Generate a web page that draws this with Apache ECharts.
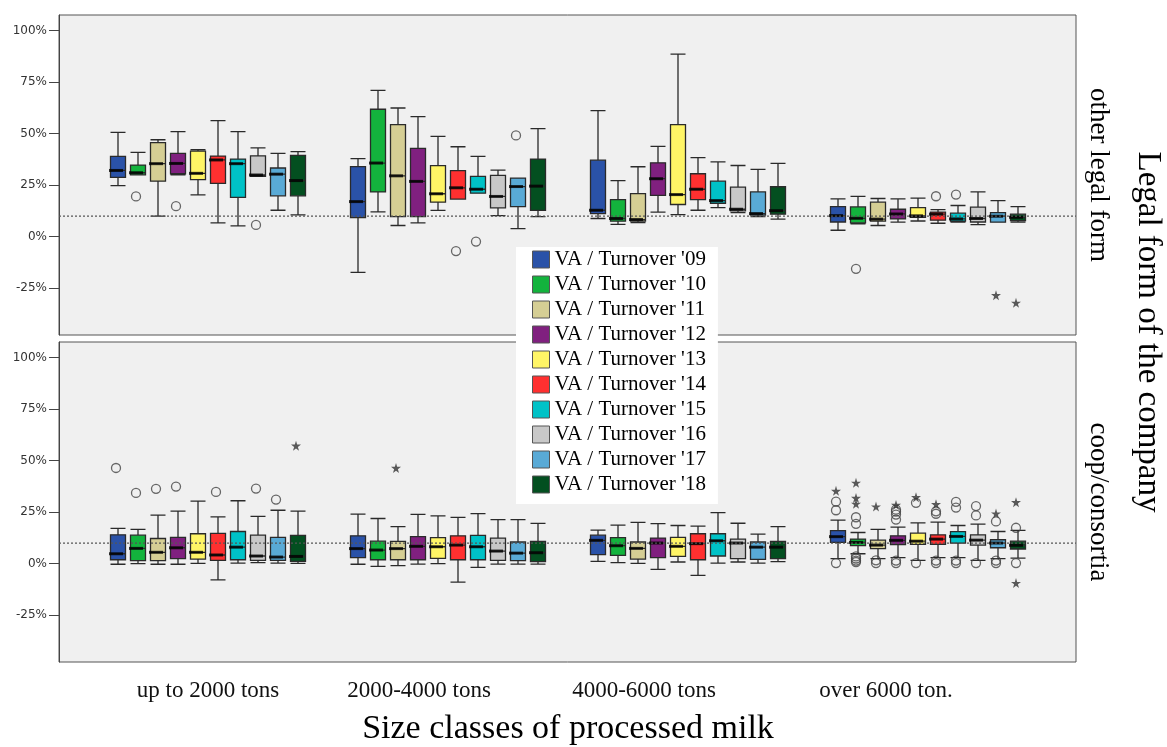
<!DOCTYPE html>
<html><head><meta charset="utf-8">
<script src="https://cdn.jsdelivr.net/npm/echarts@6/dist/echarts.min.js"></script>
<style>html,body{margin:0;padding:0;background:#fff}#c{width:1167px;height:747px}</style>
</head><body><div id="c"></div>
<script>
// ---------- data ----------
const groups = ['up to 2000 tons', '2000-4000 tons', '4000-6000 tons', 'over 6000 ton.'];
const years = ["VA / Turnover '09", "VA / Turnover '10", "VA / Turnover '11", "VA / Turnover '12", "VA / Turnover '13",
               "VA / Turnover '14", "VA / Turnover '15", "VA / Turnover '16", "VA / Turnover '17", "VA / Turnover '18"];
const colors = ['#2A52A8', '#13B33D', '#D5CE94', '#80207F', '#FFF566', '#FF3030', '#00C2C7', '#C8C8C8', '#59AAD6', '#034F20'];
const panelNames = ['other legal form', 'coop/consortia'];
const yTicks = [-0.25, 0, 0.25, 0.5, 0.75, 1];
const refValue = 0.10;

// box values per group: [min, Q1, median, Q3, max]
const top09 = [[.247,.287,.321,.389,.506],[-.173,.092,.170,.340,.378],[.088,.112,.128,.371,.611],[.031,.071,.102,.146,.183]];
const top10 = [[.300,.300,.310,.347,.409],[.120,.217,.357,.618,.709],[.060,.075,.088,.180,.272],[.062,.067,.089,.144,.195]];
const top11 = [[.100,.269,.354,.456,.470],[.054,.097,.295,.543,.624],[.068,.075,.083,.209,.339],[.054,.075,.085,.167,.185]];
const top12 = [[.300,.305,.355,.404,.509],[.067,.097,.268,.428,.582],[.119,.200,.281,.358,.438],[.070,.086,.110,.133,.183]];
const top13 = [[.203,.277,.307,.415,.422],[.127,.167,.208,.344,.486],[.107,.156,.204,.543,.885],[.076,.094,.101,.141,.187]];
const top14 = [[.067,.258,.372,.391,.563],[.182,.182,.237,.320,.436],[.128,.180,.230,.305,.383],[.065,.080,.109,.119,.131]];
const top15 = [[.052,.190,.354,.376,.509],[.211,.211,.230,.292,.389],[.141,.162,.175,.269,.363],[.070,.075,.086,.114,.151]];
const top16 = [[.292,.292,.299,.392,.431],[.102,.140,.195,.297,.323],[.117,.125,.133,.240,.345],[.058,.071,.088,.143,.217]];
const top17 = [[.128,.198,.303,.333,.404],[.039,.146,.243,.284,.284],[.097,.104,.112,.217,.326],[.070,.070,.099,.117,.175]];
const top18 = [[.106,.198,.272,.394,.412],[.097,.127,.245,.376,.524],[.085,.109,.126,.242,.355],[.070,.078,.094,.109,.146]];

const bot09 = [[-.003,.019,.048,.140,.171],[-.003,.029,.073,.135,.240],[.011,.044,.113,.138,.163],[.024,.103,.131,.160,.211]];
const bot10 = [[.000,.015,.074,.138,.166],[-.013,.019,.066,.109,.219],[.005,.040,.087,.126,.187],[.048,.087,.103,.119,.151]];
const bot11 = [[-.003,.015,.055,.122,.235],[-.010,.019,.073,.108,.180],[.001,.022,.074,.105,.200],[.024,.073,.090,.114,.166]];
const bot12 = [[-.003,.024,.077,.127,.255],[-.002,.019,.084,.131,.239],[-.028,.029,.100,.124,.194],[.029,.092,.113,.135,.177]];
const bot13 = [[.001,.022,.055,.145,.303],[.000,.026,.082,.126,.232],[.008,.035,.084,.127,.185],[.016,.093,.109,.148,.198]];
const bot14 = [[-.079,.016,.042,.147,.227],[-.090,.019,.090,.135,.224],[-.057,.019,.097,.145,.182],[.029,.093,.119,.140,.201]];
const bot15 = [[.003,.019,.080,.156,.305],[-.018,.019,.082,.137,.243],[.003,.037,.111,.145,.247],[.029,.100,.132,.155,.185]];
const bot16 = [[.005,.016,.037,.138,.229],[-.002,.016,.061,.124,.214],[.008,.024,.100,.119,.196],[.016,.090,.114,.140,.192]];
const bot17 = [[.003,.016,.032,.127,.259],[-.002,.015,.051,.105,.214],[.003,.021,.080,.105,.143],[.024,.077,.100,.116,.156]];
const bot18 = [[.001,.011,.035,.137,.255],[-.002,.010,.053,.108,.195],[.010,.024,.080,.108,.180],[.027,.071,.089,.109,.161]];

// outliers: [group, yearIndex, value]
const topCircles = [[0,1,.195],[0,3,.148],[0,7,.057],[1,5,-.070],[1,6,-.024],[1,8,.491],[3,1,-.156],[3,5,.196],[3,6,.204]];
const topStars = [[3,8,-.284],[3,9,-.321]];
const botCircles = [[0,0,.464],[0,1,.343],[0,2,.363],[0,3,.374],[0,5,.348],[0,7,.364],[0,8,.311],
  [3,0,.259],[3,0,.301],[3,0,.003],
  [3,1,.193],[3,1,.225],[3,1,.035],[3,1,.025],[3,1,.015],[3,1,.008],
  [3,2,.016],[3,2,.003],
  [3,3,.214],[3,3,.238],[3,3,.252],[3,3,.262],[3,3,.015],[3,3,.003],
  [3,4,.295],[3,4,.003],
  [3,5,.242],[3,5,.254],[3,5,.015],[3,5,.003],
  [3,6,.272],[3,6,.300],[3,6,.015],[3,6,.003],
  [3,7,.234],[3,7,.279],[3,7,.003],
  [3,8,.205],[3,8,.015],[3,8,.003],
  [3,9,.174],[3,9,.003]];
const botStars = [[0,9,.572],[1,2,.464],[3,0,.353],[3,1,.290],[3,1,.319],[3,1,.392],[3,2,.277],[3,3,.285],
  [3,4,.322],[3,5,.288],[3,8,.243],[3,9,.298],[3,9,-.094]];

const panels = [
  {series: [top09,top10,top11,top12,top13,top14,top15,top16,top17,top18], circles: topCircles, stars: topStars},
  {series: [bot09,bot10,bot11,bot12,bot13,bot14,bot15,bot16,bot17,bot18], circles: botCircles, stars: botStars}
];

// ---------- build ----------
const SLOTS = 12;
const slotNames = [];
groups.forEach((g, gi) => { for (let k = 0; k < SLOTS; k++) slotNames.push(gi + '_' + k); });
const slotOf = (g, s) => g * SLOTS + 1 + s;
const yMin = -0.477, yMax = 1.075;
const panelTop = [15, 342], panelH = 320;
const serif = 'Liberation Serif';
const starPath = 'path://M50,0 L61,35 L98,35 L68,57 L79,91 L50,70 L21,91 L32,57 L2,35 L39,35 Z';
const OFF = [-2, 0];
// label shifts (the reference places the group labels left of the box groups)
const labelPad = [[0, 0, 0, 0], [0, 58, 0, 0], [0, 88, 0, 0], [0, 84, 0, 0]];

const grid = [], xAxis = [], yAxis = [], series = [];
panelTop.forEach(t => grid.push({left: 59, top: t, width: 1017, height: panelH, show: true,
  backgroundColor: '#F0F0F0', borderColor: '#555', borderWidth: 1}));
panelTop.forEach(t => grid.push({left: 88, top: t, width: 960, height: panelH}));

[0, 1].forEach(p => {
  xAxis.push({type: 'value', gridIndex: p, min: 0, max: 1, show: false});
  yAxis.push({type: 'value', gridIndex: p, min: yMin, max: yMax,
    axisLine: {show: true, lineStyle: {color: '#444', width: 1}},
    axisTick: {show: true, length: 10, customValues: yTicks, lineStyle: {color: '#444'}},
    axisLabel: {customValues: yTicks, margin: 12, fontFamily: 'DejaVu Sans', fontSize: 12, color: '#333',
      formatter: v => Math.round(v * 100) + '%'},
    splitLine: {show: false}});
});
[0, 1].forEach(p => {
  yAxis.push({type: 'value', gridIndex: p, position: 'right', min: yMin, max: yMax,
    name: panelNames[p], nameLocation: 'middle', nameRotate: -90, nameGap: 9,
    nameTextStyle: {fontFamily: serif, fontSize: 27, color: '#000'},
    axisLine: {show: false}, axisTick: {show: false}, axisLabel: {show: false}, splitLine: {show: false}});
});
[0, 1].forEach(p => yAxis.push({type: 'value', gridIndex: 2 + p, min: yMin, max: yMax, show: false}));
const slotAxis = (p, s) => 2 + p * 10 + s;
[0, 1].forEach(p => { for (let s = 0; s < 10; s++) xAxis.push({type: 'category', gridIndex: 2 + p, data: slotNames, show: false}); });
const rich = {};
labelPad.forEach((pd, i) => { rich['l' + i] = {fontFamily: serif, fontSize: 23, color: '#111', padding: pd}; });
xAxis.push({type: 'category', gridIndex: 3, data: groups, position: 'bottom',
  axisLine: {show: false}, axisTick: {show: false},
  axisLabel: {margin: 17, interval: 0, hideOverlap: false, fontFamily: serif, fontSize: 23, color: '#111',
    formatter: (v, i) => '{l' + i + '|' + v + '}', rich},
  name: 'Size classes of processed milk', nameLocation: 'middle', nameGap: 50,
  nameTextStyle: {fontFamily: serif, fontSize: 34, color: '#000'}});

panels.forEach((P, p) => {
  P.series.forEach((arr, s) => {
    series.push({type: 'boxplot', name: years[s], xAxisIndex: slotAxis(p, s), yAxisIndex: 4 + p,
      encode: {x: 0, y: [1, 2, 3, 4, 5]}, boxWidth: [15, 15],
      itemStyle: {color: colors[s], borderColor: '#2a2a2a', borderWidth: 1.3},
      emphasis: {disabled: true}, z: 2,
      data: arr.map((b, g) => [slotOf(g, s)].concat(b))});
  });
  const med = [];
  P.series.forEach((arr, s) => arr.forEach((b, g) => med.push([slotOf(g, s), b[2]])));
  series.push({type: 'scatter', xAxisIndex: slotAxis(p, 0), yAxisIndex: 4 + p, symbol: 'rect',
    symbolSize: [14, 3], symbolOffset: OFF, itemStyle: {color: '#000'}, z: 4, silent: true, data: med});
  series.push({type: 'scatter', xAxisIndex: slotAxis(p, 0), yAxisIndex: 4 + p, symbol: 'circle',
    symbolSize: 9, symbolOffset: OFF, itemStyle: {color: 'rgba(0,0,0,0)', borderColor: '#444', borderWidth: 1.3},
    z: 5, silent: true, data: P.circles.map(o => [slotOf(o[0], o[1]), o[2]])});
  series.push({type: 'scatter', xAxisIndex: slotAxis(p, 0), yAxisIndex: 4 + p, symbol: starPath,
    symbolSize: 10, symbolOffset: OFF, itemStyle: {color: '#333'}, z: 5, silent: true,
    data: P.stars.map(o => [slotOf(o[0], o[1]), o[2]])});
  series.push({type: 'line', xAxisIndex: p, yAxisIndex: p, symbol: 'none', silent: true, z: 6,
    lineStyle: {color: '#555', width: 1.2, type: [2, 2]}, data: [[0, refValue], [1, refValue]]});
});

const option = {
  animation: false,
  backgroundColor: '#fff',
  grid, xAxis, yAxis, series,
  legend: {
    orient: 'vertical', left: 516, top: 247, padding: [2, 12, 9, 16], itemGap: 4,
    backgroundColor: '#fff', itemWidth: 17, itemHeight: 17, icon: 'rect', selectedMode: false,
    textStyle: {fontFamily: serif, fontSize: 21, color: '#000'},
    data: years.map((n, i) => ({name: n, itemStyle: {color: colors[i], borderColor: '#555', borderWidth: 1}}))
  },
  graphic: [{type: 'text', x: 1148, y: 332, rotation: -Math.PI / 2,
    style: {text: 'Legal form of the company', fontFamily: serif, fontSize: 33, fill: '#000',
      align: 'center', verticalAlign: 'middle'}}]
};
const chart = echarts.init(document.getElementById('c'), null, {renderer: 'canvas'});
chart.setOption(option);
</script></body></html>
